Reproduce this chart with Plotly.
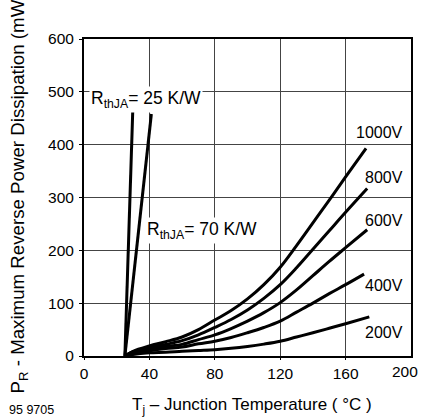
import plotly.graph_objects as go

# ---- data ----
tj_grid = [25, 30, 40, 50, 60, 70, 80, 90, 100, 110, 120, 130, 140, 150, 160]

volt_labels = ["1000V", "800V", "600V", "400V", "200V"]
end_tj = [172.5, 173.2, 173.2, 171.3, 174.5]
p_1000 = [0, 9, 19, 27, 36, 50, 68, 86, 108, 135, 168, 209, 252, 295, 339, 393]
p_800 = [0, 8, 16, 22, 29, 40, 54, 69, 87, 109, 135, 167, 202, 237, 272, 317]
p_600 = [0, 7, 13, 18, 22, 31, 40, 52, 66, 82, 101, 125, 152, 179, 205, 239]
p_400 = [0, 5, 10, 14, 17, 23, 28, 35, 44, 54, 66, 83, 100, 118, 135, 155]
p_200 = [0, 3, 6, 7, 9, 10.5, 12, 14.5, 18, 22.5, 28, 36, 44, 52.5, 61, 74]
series_p = [p_1000, p_800, p_600, p_400, p_200]
label_y = [423, 337, 257, 134, 45]

rth25_t = [25, 29.8]
rth25_p = [0, 462]
rth70_t = [25, 41.2]
rth70_p = [0, 458]

x_tick_vals = [0, 40, 80, 120, 160, 200]
x_tick_text = ["0", "40", "80", "120", "160", "200"]
y_tick_vals = [0, 100, 200, 300, 400, 500, 600]
y_tick_text = ["0", "100", "200", "300", "400", "500", "600"]

FONT = "Liberation Sans, Arial, Helvetica, sans-serif"

fig = go.Figure()

for p, tend in zip(series_p, end_tj):
    fig.add_trace(go.Scatter(
        x=tj_grid + [tend], y=p, mode="lines",
        line=dict(color="black", width=3, shape="spline", smoothing=1.0),
        showlegend=False, hoverinfo="skip"))

for t, p in ((rth25_t, rth25_p), (rth70_t, rth70_p)):
    fig.add_trace(go.Scatter(
        x=t, y=p, mode="lines", line=dict(color="black", width=3),
        showlegend=False, hoverinfo="skip"))

# curve labels
for txt, yv in zip(volt_labels, label_y):
    fig.add_annotation(x=196.5, y=yv, xref="x", yref="y", text=txt,
                       showarrow=False, xanchor="right", yanchor="middle",
                       font=dict(family=FONT, size=16, color="black"))

# Rth labels (white background hides grid)
fig.add_annotation(x=3.3, y=485, xref="x", yref="y",
                   text="R<sub>thJA</sub>= 25 K/W", showarrow=False,
                   xanchor="left", yanchor="middle", bgcolor="white",
                   borderpad=1, font=dict(family=FONT, size=17.5, color="black"))
fig.add_annotation(x=37.6, y=238, xref="x", yref="y",
                   text="R<sub>thJA</sub>= 70 K/W", showarrow=False,
                   xanchor="left", yanchor="middle", bgcolor="white",
                   borderpad=1, font=dict(family=FONT, size=17.5, color="black"))

# last x tick label placed like the reference (shifted in from the edge)
fig.add_annotation(x=(406.5 - 84) / 329, y=(356 - 371.5) / 317, xref="paper", yref="paper",
                   text=x_tick_text[-1], showarrow=False, xanchor="center",
                   yanchor="middle", font=dict(family=FONT, size=15.5, color="black"))

# axis titles
fig.add_annotation(x=(253 - 84) / 329, y=(356 - 405.5) / 317, xref="paper", yref="paper",
                   text="T<sub>j</sub> \u2013 Junction Temperature ( \u00b0C )",
                   showarrow=False, xanchor="center", yanchor="middle",
                   font=dict(family=FONT, size=17, color="black"))
fig.add_annotation(x=(19 - 84) / 329, y=(356 - 395) / 317, xref="paper", yref="paper",
                   text="P<sub>R</sub> - Maximum Reverse Power Dissipation (mW)",
                   textangle=-90, showarrow=False, xanchor="center", yanchor="bottom",
                   font=dict(family=FONT, size=18.7, color="black"))
fig.add_annotation(x=(7 - 84) / 329, y=(356 - 410) / 317, xref="paper", yref="paper",
                   text="95 9705", showarrow=False, xanchor="left", yanchor="middle",
                   font=dict(family=FONT, size=12.5, color="black"))

fig.update_layout(
    width=425, height=418,
    margin=dict(l=84, r=12, t=39, b=62),
    paper_bgcolor="white", plot_bgcolor="white",
    font=dict(family=FONT, size=15.5, color="black"),
    showlegend=False,
)
fig.update_xaxes(range=[0, 200], tickmode="array",
                 tickvals=x_tick_vals[:-1], ticktext=x_tick_text[:-1],
                 showgrid=True, gridcolor="#444", gridwidth=1,
                 showline=True, linecolor="black", linewidth=2, mirror=True,
                 ticks="outside", ticklen=2, tickcolor="black", tickwidth=1,
                 ticklabelstandoff=0,
                 zeroline=False, tickfont=dict(family=FONT, size=15.5, color="black"))
fig.update_yaxes(range=[0, 600], tickmode="array",
                 tickvals=y_tick_vals, ticktext=y_tick_text,
                 showgrid=True, gridcolor="#444", gridwidth=1,
                 showline=True, linecolor="black", linewidth=2, mirror=True,
                 ticks="outside", ticklen=3, tickcolor="black", tickwidth=1,
                 ticklabelstandoff=2,
                 zeroline=False, tickfont=dict(family=FONT, size=15.5, color="black"))

fig.write_html("out.html", config={"displayModeBar": False},
               post_script="document.body.style.margin='0';document.body.style.overflow='hidden';")
